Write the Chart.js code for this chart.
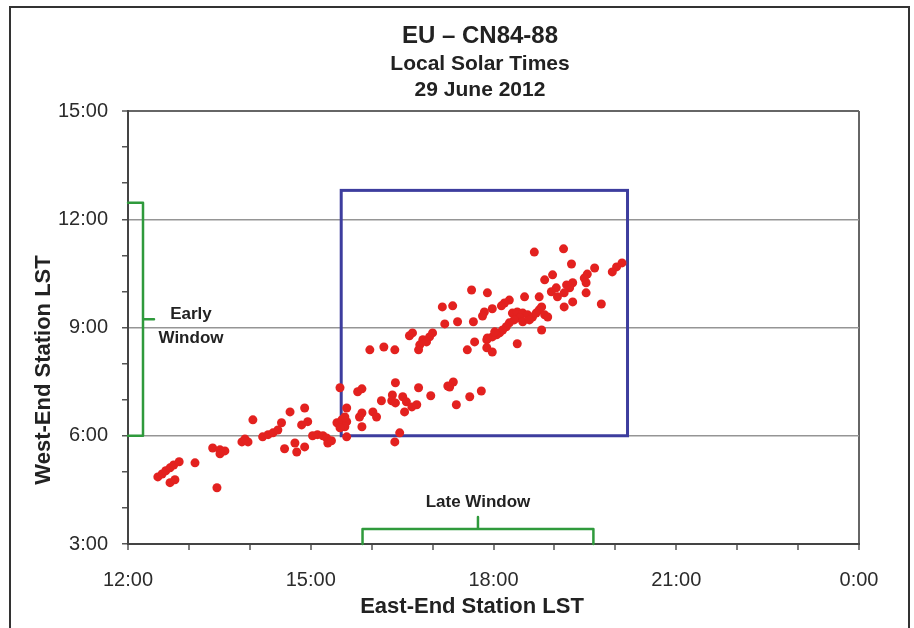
<!DOCTYPE html>
<html>
<head>
<meta charset="utf-8">
<script src="https://cdn.jsdelivr.net/npm/chart.js@4.4.1/dist/chart.umd.min.js"></script>
<style>
  html, body { margin: 0; padding: 0; background: #fff; }
  canvas { display: block; }
</style>
</head>
<body>
<canvas id="c" width="914" height="628"></canvas>
<script>
// Local solar times (hours) at the two ends of the path, one pair per observation
const eastLST = [
  12.49, 12.56, 12.62, 12.69, 12.75, 12.84, 12.69, 12.77, 13.10, 13.46,
  13.39, 13.51, 13.59, 13.51, 13.87, 13.97, 13.92, 14.05, 14.21, 14.30,
  14.38, 14.46, 14.52, 14.66, 14.90, 14.85, 14.95, 14.57, 14.74, 14.77,
  14.90, 15.03, 15.11, 15.20, 15.26, 15.28, 15.34, 15.43, 15.51, 15.59,
  15.56, 15.48, 15.56, 15.59, 15.48, 15.59,
  17.64, 17.90, 17.16, 17.33, 17.85, 17.82, 17.20, 17.41, 17.67,
  16.62, 16.67, 16.84, 16.95, 17.00, 16.79, 16.77, 16.90,
  15.97, 16.20, 16.38, 17.69, 17.57, 17.89, 17.89,
  15.77, 15.84, 16.39, 16.77, 16.97, 17.25, 17.34, 17.28, 17.61, 17.80, 17.39,
  16.16, 16.02, 16.08, 16.34, 16.33, 16.39, 16.51, 16.57, 16.66, 16.74, 16.54,
  15.84, 15.80, 15.84, 16.46, 16.38,
  18.67, 19.15, 19.28, 19.66, 19.54, 19.49, 19.52, 20.02, 20.11, 19.95,
  18.97, 18.84, 19.30, 19.25, 19.20, 19.03, 18.95, 19.05, 19.16,
  19.52, 19.77, 19.30, 19.16, 18.51, 18.75, 18.26, 18.18, 18.13, 17.98,
  18.31, 18.39, 18.48, 18.56, 18.64, 18.70, 18.75, 18.79, 18.84, 18.89,
  18.43, 18.34, 18.48, 18.59, 18.26, 18.21, 18.15, 18.10, 18.05, 17.98,
  17.90, 18.02, 18.79, 18.39, 17.98
];
const westLST = [
  4.86, 4.94, 5.03, 5.11, 5.19, 5.28, 4.70, 4.78, 5.25, 4.56,
  5.66, 5.61, 5.58, 5.50, 5.83, 5.83, 5.91, 6.44, 5.97, 6.03,
  6.08, 6.16, 6.36, 6.66, 6.77, 6.30, 6.39, 5.64, 5.80, 5.55,
  5.69, 6.00, 6.03, 6.00, 5.94, 5.80, 5.86, 6.36, 6.44, 6.39,
  6.25, 6.22, 6.52, 5.97, 7.33, 6.77,
  10.04, 9.96, 9.57, 9.60, 9.43, 9.32, 9.10, 9.16, 9.16,
  8.77, 8.85, 8.66, 8.74, 8.85, 8.52, 8.38, 8.60,
  8.38, 8.46, 8.38, 8.60, 8.38, 8.66, 8.44,
  7.22, 7.30, 7.47, 7.33, 7.11, 7.38, 7.49, 7.35, 7.08, 7.24, 6.86,
  6.97, 6.66, 6.52, 7.13, 6.97, 6.91, 7.08, 6.94, 6.80, 6.86, 6.66,
  6.63, 6.52, 6.25, 6.08, 5.83,
  11.09, 11.18, 10.76, 10.65, 10.48, 10.37, 10.24, 10.68, 10.79, 10.54,
  10.46, 10.32, 10.24, 10.10, 10.18, 10.10, 9.99, 9.85, 9.96,
  9.96, 9.65, 9.71, 9.57, 9.85, 9.85, 9.76, 9.68, 9.60, 9.52,
  9.40, 9.43, 9.40, 9.35, 9.29, 9.40, 9.49, 9.57, 9.35, 9.29,
  9.27, 9.21, 9.16, 9.21, 9.13, 9.02, 8.93, 8.85, 8.80, 8.74,
  8.71, 8.88, 8.93, 8.55, 8.32
];

// Axis ranges (hours) and labelled hours
const eastRange = [12, 24];
const westRange = [3, 15];
const labelEvery = 3;

// Common window in both local times (blue box)
const boxEast = [15.5, 20.2];
const boxWest = [6.0, 12.8];
// Early window on the west end, late window on the east end
const earlyWindow = [6.0, 12.46];
const lateWindow = [15.85, 19.64];

const titleLines = ['EU \u2013 CN84-88', 'Local Solar Times', '29 June 2012'];
const xTitle = 'East-End Station LST';
const yTitle = 'West-End Station LST';
const earlyLabel = ['Early', 'Window'];
const lateLabel = 'Late Window';

const FONT = '"Liberation Sans", Arial, Helvetica, sans-serif';
const fmtHour = v => (v % 24) + ':00';

const points = eastLST.map((x, i) => ({ x: x, y: westLST[i] }));

const pagePlugin = {
  id: 'page',
  beforeDraw(chart) {
    const ctx = chart.ctx;
    ctx.save();
    ctx.fillStyle = '#ffffff';
    ctx.fillRect(0, 0, chart.width, chart.height);
    ctx.strokeStyle = '#333333';
    ctx.lineWidth = 2;
    ctx.strokeRect(10, 7, 899, chart.height + 20);
    ctx.restore();
  },
  beforeDatasetsDraw(chart) {
    const ctx = chart.ctx;
    const xs = chart.scales.x, ys = chart.scales.y;
    const area = chart.chartArea;
    ctx.save();
    // blue box
    ctx.strokeStyle = '#3d3d9e';
    ctx.lineWidth = 3;
    const bx0 = xs.getPixelForValue(boxEast[0]), bx1 = xs.getPixelForValue(boxEast[1]);
    const by0 = ys.getPixelForValue(boxWest[1]), by1 = ys.getPixelForValue(boxWest[0]);
    ctx.strokeRect(bx0, by0, bx1 - bx0, by1 - by0);

    // brackets
    ctx.strokeStyle = '#2f9a3c';
    ctx.lineWidth = 2.5;
    ctx.lineJoin = 'round';
    ctx.lineCap = 'round';
    const depth = 15, tip = 11;
    // early window, along the y axis
    const ey0 = ys.getPixelForValue(earlyWindow[1]);
    const ey1 = ys.getPixelForValue(earlyWindow[0]);
    const eym = (ey0 + ey1) / 2;
    const ex = area.left;
    ctx.beginPath();
    ctx.moveTo(ex, ey0);
    ctx.lineTo(ex + depth, ey0);
    ctx.lineTo(ex + depth, ey1);
    ctx.lineTo(ex, ey1);
    ctx.moveTo(ex + depth, eym);
    ctx.lineTo(ex + depth + tip, eym);
    ctx.stroke();
    // late window, along the x axis
    const lx0 = xs.getPixelForValue(lateWindow[0]);
    const lx1 = xs.getPixelForValue(lateWindow[1]);
    const lxm = (lx0 + lx1) / 2;
    const ly = area.bottom;
    ctx.beginPath();
    ctx.moveTo(lx0, ly);
    ctx.lineTo(lx0, ly - depth);
    ctx.lineTo(lx1, ly - depth);
    ctx.lineTo(lx1, ly);
    ctx.moveTo(lxm, ly - depth);
    ctx.lineTo(lxm, ly - depth - 12);
    ctx.stroke();
    ctx.restore();
  },
  afterDraw(chart) {
    const ctx = chart.ctx;
    const xs = chart.scales.x, ys = chart.scales.y;
    const area = chart.chartArea;
    ctx.save();
    ctx.fillStyle = '#222222';
    ctx.textAlign = 'center';
    ctx.textBaseline = 'middle';
    // titles
    ctx.font = 'bold 24px ' + FONT;
    ctx.fillText(titleLines[0], 480, 36);
    ctx.font = 'bold 21px ' + FONT;
    ctx.fillText(titleLines[1], 480, 64);
    ctx.fillText(titleLines[2], 480, 90);
    // axis titles
    ctx.font = 'bold 22px ' + FONT;
    ctx.fillText(xTitle, 472, 607);
    ctx.save();
    ctx.translate(44, 370);
    ctx.rotate(-Math.PI / 2);
    ctx.fillText(yTitle, 0, 0);
    ctx.restore();
    // window labels
    ctx.font = 'bold 17px ' + FONT;
    const eym = (ys.getPixelForValue(earlyWindow[0]) + ys.getPixelForValue(earlyWindow[1])) / 2;
    ctx.fillText(earlyLabel[0], area.left + 63, eym - 5);
    ctx.fillText(earlyLabel[1], area.left + 63, eym + 19);
    const lxm = (xs.getPixelForValue(lateWindow[0]) + xs.getPixelForValue(lateWindow[1])) / 2;
    ctx.fillText(lateLabel, lxm, area.bottom - 42);
    ctx.restore();
  }
};

new Chart(document.getElementById('c'), {
  type: 'scatter',
  data: {
    datasets: [{
      data: points,
      backgroundColor: '#e3211f',
      borderColor: '#e3211f',
      borderWidth: 0,
      pointRadius: 4.5,
      pointHoverRadius: 4.5
    }]
  },
  options: {
    responsive: false,
    animation: false,
    devicePixelRatio: 1,
    layout: { padding: { left: 0, right: 55, top: 111, bottom: 0 } },
    plugins: {
      legend: { display: false },
      title: { display: false },
      tooltip: { enabled: false }
    },
    scales: {
      x: {
        type: 'linear',
        min: eastRange[0],
        max: eastRange[1],
        afterFit(scale) { scale.height = 84; },
        border: { color: '#444444', width: 2 },
        grid: {
          drawOnChartArea: true,
          color: c => (c.tick && c.tick.value === eastRange[1]) ? '#666666' : 'rgba(0,0,0,0)',
          lineWidth: 2,
          tickColor: '#555555',
          tickLength: 6,
          tickWidth: 1.5
        },
        ticks: {
          stepSize: 1,
          autoSkip: false,
          maxRotation: 0,
          padding: 18,
          color: '#2b2b2b',
          font: { family: FONT, size: 20 },
          callback: v => (v % labelEvery === 0) ? fmtHour(v) : ''
        }
      },
      y: {
        type: 'linear',
        min: westRange[0],
        max: westRange[1],
        afterFit(scale) { scale.width = 128; },
        border: { color: '#444444', width: 2 },
        grid: {
          drawOnChartArea: true,
          color: c => {
            if (!c.tick) return 'rgba(0,0,0,0)';
            const v = c.tick.value;
            if (v === westRange[1]) return '#666666';
            if (v === westRange[0]) return 'rgba(0,0,0,0)';
            return (v % labelEvery === 0) ? '#959595' : 'rgba(0,0,0,0)';
          },
          lineWidth: c => (c.tick && c.tick.value === westRange[1]) ? 2 : 1.5,
          tickColor: '#555555',
          tickLength: 6,
          tickWidth: 1.5
        },
        ticks: {
          stepSize: 1,
          autoSkip: false,
          padding: 14,
          color: '#2b2b2b',
          font: { family: FONT, size: 20 },
          callback: v => (v % labelEvery === 0) ? fmtHour(v) : ''
        }
      }
    }
  },
  plugins: [pagePlugin]
});
</script>
</body>
</html>
